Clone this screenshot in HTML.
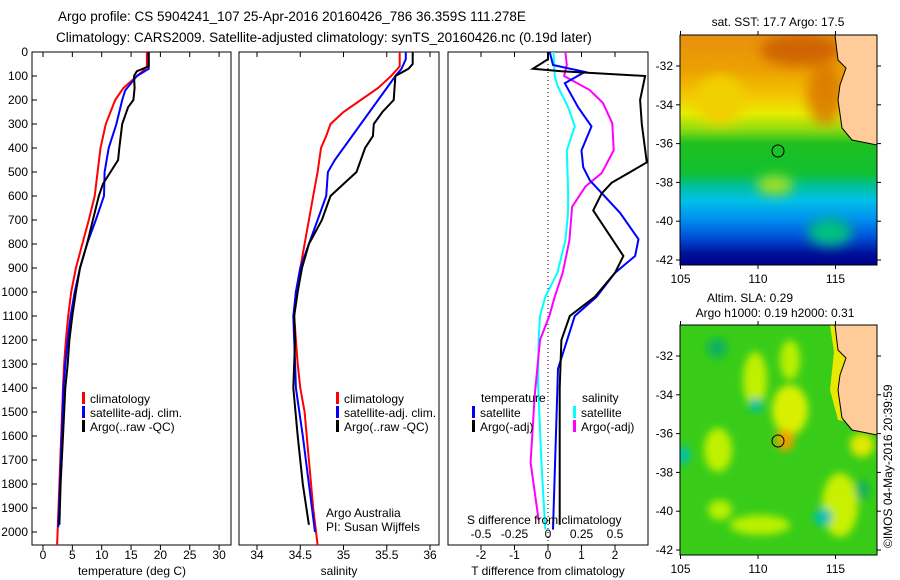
<!DOCTYPE html>
<html><head><meta charset="utf-8"><style>
body{margin:0;background:#fff}
svg{display:block;font-family:"Liberation Sans",sans-serif}
</style></head><body>
<svg id="chart" width="900" height="580" viewBox="0 0 900 580">
<text x="58" y="21" font-size="13.5">Argo profile: CS 5904241_107 25-Apr-2016 20160426_786 36.359S 111.278E</text>
<text x="56" y="42" font-size="13.5">Climatology: CARS2009. Satellite-adjusted climatology: synTS_20160426.nc (0.19d later)</text>
<g id="panels"></g>
<g id="maps">
 <defs>
  <linearGradient id="sstg" x1="0" y1="0" x2="0" y2="1">
   <stop offset="0" stop-color="#e89010"/><stop offset="0.15" stop-color="#eca000"/>
   <stop offset="0.27" stop-color="#f4c800"/><stop offset="0.34" stop-color="#e8ec00"/>
   <stop offset="0.41" stop-color="#90dc10"/><stop offset="0.47" stop-color="#20c020"/>
   <stop offset="0.6" stop-color="#10c030"/><stop offset="0.66" stop-color="#00c0a0"/>
   <stop offset="0.72" stop-color="#00c0e8"/><stop offset="0.8" stop-color="#0090f0"/>
   <stop offset="0.88" stop-color="#0050d8"/><stop offset="0.95" stop-color="#001098"/>
   <stop offset="1" stop-color="#000088"/>
  </linearGradient>
  <clipPath id="c1"><rect x="680" y="35" width="197" height="230"/></clipPath>
  <clipPath id="c2"><rect x="680" y="325" width="197" height="230"/></clipPath>
  <filter id="bl"><feGaussianBlur stdDeviation="6"/></filter>
  <filter id="bl2"><feGaussianBlur stdDeviation="4"/></filter>
 </defs>
 <g clip-path="url(#c1)">
  <rect x="680" y="35" width="197" height="230" fill="url(#sstg)"/>
  <g filter="url(#bl)">
   <ellipse cx="800" cy="50" rx="40" ry="16" fill="#c85800" opacity="0.8"/>
   <ellipse cx="825" cy="95" rx="18" ry="30" fill="#d87000" opacity="0.8"/>
   <ellipse cx="775" cy="185" rx="18" ry="10" fill="#a0e020"/>
   <ellipse cx="830" cy="232" rx="22" ry="14" fill="#00c080"/>
   <ellipse cx="720" cy="100" rx="25" ry="25" fill="#f0d000"/>
  </g>
  <polygon points="835,35 838,60 846,68 840,85 838,100 842,128 852,140 877,145 877,35" fill="#ffcc99" stroke="#000" stroke-width="1"/>
 </g>
 <rect x="680" y="35" width="197" height="230" fill="none" stroke="#000"/>
 <circle cx="778" cy="151" r="6" fill="none" stroke="#000"/>
 <g clip-path="url(#c2)">
  <rect x="680" y="325" width="197" height="230" fill="#38cc18"/>
  <g filter="url(#bl2)">
   <ellipse cx="755" cy="380" rx="12" ry="28" fill="#c0f000"/>
   <ellipse cx="790" cy="410" rx="18" ry="25" fill="#d8f000"/>
   <ellipse cx="785" cy="440" rx="9" ry="11" fill="#f0a000"/>
   <ellipse cx="718" cy="450" rx="14" ry="22" fill="#c0f000"/>
   <ellipse cx="840" cy="505" rx="18" ry="32" fill="#c8f000"/>
   <ellipse cx="862" cy="445" rx="12" ry="12" fill="#e0e800"/>
   <ellipse cx="760" cy="525" rx="30" ry="10" fill="#b8f000"/>
   <ellipse cx="720" cy="510" rx="12" ry="10" fill="#b8f000"/>
   <ellipse cx="790" cy="360" rx="10" ry="20" fill="#b8f000"/>
   <ellipse cx="756" cy="405" rx="7" ry="7" fill="#00c0a0"/>
   <ellipse cx="683" cy="455" rx="7" ry="9" fill="#00c0b0"/>
   <ellipse cx="823" cy="517" rx="9" ry="9" fill="#00c0b0"/>
   <ellipse cx="717" cy="348" rx="10" ry="10" fill="#10b060"/>
   <ellipse cx="862" cy="490" rx="7" ry="10" fill="#10b060"/>
  </g>
  <polygon points="830,325 834,352 830,390 838,420 877,427 877,325" fill="#e8e800"/>
  <polygon points="835,325 838,350 846,358 840,375 838,390 842,418 852,430 877,435 877,325" fill="#ffcc99" stroke="#000" stroke-width="1"/>
 </g>
 <rect x="680" y="325" width="197" height="230" fill="none" stroke="#000"/>
 <circle cx="778" cy="441" r="6" fill="none" stroke="#000"/>
 <text x="778" y="26" font-size="12" text-anchor="middle">sat. SST: 17.7 Argo: 17.5</text>
 <text x="750" y="302" font-size="12" text-anchor="middle">Altim. SLA: 0.29</text>
 <text x="775" y="317" font-size="12" text-anchor="middle">Argo h1000: 0.19 h2000: 0.31</text>
 <text transform="translate(892,548) rotate(-90)" font-size="12">©IMOS 04-May-2016 20:39:59</text>
 <g id="mapticks"></g>
</g>
</svg>
<script>
// depths (m) and values for each profile
const tClimD=[0,60,80,100,150,200,300,400,500,600,700,800,900,1000,1100,1200,1300,1400,1600,1800,2054];
const tClimV=[17.7,17.7,17,16,13.7,12.3,10.7,9.8,9.3,8.8,7.8,6.7,5.6,4.8,4.3,3.9,3.6,3.4,3.1,2.8,2.4];
const tSatD=[0,70,100,160,200,300,400,500,600,700,800,900,1000,1100,1200,1300,1400,1600,1800,1980];
const tSatV=[18,18,16,14,13.5,12.5,11.2,10.5,10.4,9,7.5,6.3,5.4,4.7,4.2,3.8,3.5,3.2,2.9,2.6];
const tArgoD=[0,60,70,80,100,150,200,230,300,400,450,500,550,600,700,800,900,1000,1100,1200,1300,1400,1600,1800,1970];
const tArgoV=[18,18,17,16,15.5,15.6,15.4,14.5,13.5,13,12.8,11.5,10.2,9.5,8.5,7.5,6.3,5.6,5.0,4.5,4.2,3.8,3.4,3.0,2.8];
const sClimD=[0,60,100,150,200,250,300,350,400,500,600,700,800,900,1000,1100,1200,1300,1400,1500,1700,1900,2054];
const sClimV=[35.65,35.65,35.55,35.4,35.2,35.0,34.85,34.8,34.74,34.7,34.65,34.6,34.55,34.5,34.45,34.43,34.45,34.47,34.5,34.55,34.6,34.65,34.7];
const sSatD=[0,30,70,100,150,200,300,400,450,500,600,700,800,900,1000,1100,1200,1300,1400,1600,1800,2000];
const sSatV=[35.72,35.72,35.67,35.6,35.5,35.4,35.2,35.0,34.9,34.82,34.8,34.7,34.6,34.5,34.45,34.42,34.43,34.44,34.45,34.53,34.6,34.67];
const sArgoD=[0,50,70,100,200,250,300,350,400,500,550,600,700,800,900,1000,1100,1200,1400,1600,1800,1970];
const sArgoV=[35.8,35.8,35.75,35.6,35.58,35.45,35.35,35.34,35.25,35.15,35.0,34.85,34.75,34.6,34.52,34.47,34.43,34.44,34.42,34.47,34.53,34.6];
const dTArgoD=[0,30,70,80,100,200,300,460,545,590,660,850,920,1020,1100,1200,1400,1700,1970];
const dTArgoV=[0,0,-0.45,0.4,2.9,2.75,2.8,2.95,1.9,1.6,1.35,2.25,2.0,1.4,0.65,0.4,0.35,0.35,0.35];
const dTSatD=[0,54,83,130,230,310,410,480,535,670,780,850,920,1020,1100,1320,1990];
const dTSatV=[0.05,0.15,1.1,0.5,0.9,1.3,1.0,1.05,1.25,2.15,2.7,2.6,2.0,1.45,0.8,0.3,0.15];
const dSArgoD=[0,54,100,158,212,297,410,505,560,645,785,920,1020,1100,1200,1437,1710,1950];
const dSArgoV=[0.13,0.14,0.12,0.31,0.41,0.48,0.49,0.4,0.28,0.18,0.16,0.11,0.05,0.01,-0.06,-0.1,-0.13,-0.07];
const dSSatD=[0,100,140,230,310,410,575,670,785,920,1020,1100,1200,1375,1700,1990];
const dSSatV=[0.04,0.05,0.07,0.15,0.2,0.14,0.15,0.15,0.13,0.07,-0.02,-0.06,-0.07,-0.075,-0.05,-0.02];
const depthTicks=[0,100,200,300,400,500,600,700,800,900,1000,1100,1200,1300,1400,1500,1600,1700,1800,1900,2000];
const tTicks=[0,5,10,15,20,25,30];
const sTicks=[34,34.5,35,35.5,36];
const sTickLabels=["34","34.5","35","35.5","36"];
const dTTicks=[-2,-1,0,1,2];
const dSTicks=[-0.5,-0.25,0,0.25,0.5];
const dSTickLabels=["-0.5","-0.25","0","0.25","0.5"];
const lonTicks=[105,110,115];
const latTicks=[-32,-34,-36,-38,-40,-42];

const NS='http://www.w3.org/2000/svg';
const root=document.getElementById('panels');
function mk(tag,attrs,parent,txt){const e=document.createElementNS(NS,tag);for(const k in attrs)e.setAttribute(k,attrs[k]);if(txt!==undefined)e.textContent=txt;(parent||root).appendChild(e);return e;}
const yD=d=>52+d*0.24;
const xT=v=>43+v*5.87;
const xS=v=>257+(v-34)*86.5;
const xDT=v=>548+v*33.5;
const xDS=v=>548+v*134;
function line(D,V,fx,col,w,name){
  const p=mk('polyline',{points:D.map((d,i)=>fx(V[i]).toFixed(1)+','+yD(d).toFixed(1)).join(' '),fill:'none',stroke:col,'stroke-width':w});
  
  
}
const panels=[[32,231],[239,439],[448,648]];
panels.forEach((p,i)=>{
  const r=mk('rect',{x:p[0],y:52,width:p[1]-p[0],height:493,fill:'none',stroke:'#000'});
  
  
});
depthTicks.forEach(d=>{
  mk('line',{x1:32,x2:37,y1:yD(d),y2:yD(d),stroke:'#000'});
  const t=mk('text',{x:28,y:yD(d)+4,'font-size':12,'text-anchor':'end'},root,d);
  
  
});
function xticks(ticks,labels,fx,ly){
  ticks.forEach((v,i)=>{
    mk('line',{x1:fx(v),x2:fx(v),y1:52,y2:57,stroke:'#000'});
    mk('line',{x1:fx(v),x2:fx(v),y1:545,y2:550,stroke:'#000'});
    const t=mk('text',{x:fx(v),y:ly,'font-size':12,'text-anchor':'middle'},root,labels[i]);
    
    
  });
}
xticks(tTicks,tTicks,xT,559);
xticks(sTicks,sTickLabels,xS,559);
xticks(dTTicks,dTTicks,xDT,559);
dSTicks.forEach((v,i)=>{
  const t=mk('text',{x:xDS(v),y:538,'font-size':12,'text-anchor':'middle'},root,dSTickLabels[i]);
  
  
});
mk('line',{x1:548,x2:548,y1:52,y2:545,stroke:'#000','stroke-dasharray':'1,3'});
line(tClimD,tClimV,xT,'#ff0000',2,'temp-climatology-line');
line(tSatD,tSatV,xT,'#0000ff',2,'temp-satellite-line');
line(tArgoD,tArgoV,xT,'#000',2,'temp-argo-line');
line(sClimD,sClimV,xS,'#ff0000',2,'sal-climatology-line');
line(sSatD,sSatV,xS,'#0000ff',2,'sal-satellite-line');
line(sArgoD,sArgoV,xS,'#000',2,'sal-argo-line');
line(dSSatD,dSSatV,xDS,'#00ffff',2,'sdiff-satellite-line');
line(dSArgoD,dSArgoV,xDS,'#ff00ff',2,'sdiff-argo-line');
line(dTSatD,dTSatV,xDT,'#0000ff',2,'tdiff-satellite-line');
line(dTArgoD,dTArgoV,xDT,'#000',2,'tdiff-argo-line');
function leg(x,y,col,label){
  mk('rect',{x:x,y:y-6,width:3,height:12,fill:col});
  const t=mk('text',{x:x+8,y:y+5,'font-size':12},root,label);
  
  
}
[[82,'#f00','climatology'],[82,'#00f','satellite-adj. clim.'],[82,'#000','Argo(..raw -QC)']].forEach((e,i)=>leg(e[0],398+i*14,e[1],e[2]));
[[336,'#f00','climatology'],[336,'#00f','satellite-adj. clim.'],[336,'#000','Argo(..raw -QC)']].forEach((e,i)=>leg(e[0],398+i*14,e[1],e[2]));
leg(472,412,'#00f','satellite');leg(472,426,'#000','Argo(-adj)');
leg(573,412,'#0ff','satellite');leg(573,426,'#f0f','Argo(-adj)');
[[481,402,'temperature'],[582,402,'salinity'],[326,517,'Argo Australia'],[326,531,'PI: Susan Wijffels'],[467,524,'S difference from climatology']].forEach(a=>{
  const t=mk('text',{x:a[0],y:a[1],'font-size':12},root,a[2]);
  
  
});
[[132,'temperature (deg C)'],[339,'salinity'],[548,'T difference from climatology']].forEach(a=>{
  const t=mk('text',{x:a[0],y:575,'font-size':12,'text-anchor':'middle'},root,a[1]);
  
  
});
// maps ticks
const mt=document.getElementById('mapticks');
const xLon=v=>680.5+(v-105)*15.5;
[[35,265],[325,555]].forEach(([top,bot])=>{
  lonTicks.forEach(v=>{
    mk('line',{x1:xLon(v),x2:xLon(v),y1:bot,y2:bot+4,stroke:'#000'},mt);
    mk('line',{x1:xLon(v),x2:xLon(v),y1:top,y2:top-4,stroke:'#000'},mt);
    const t=mk('text',{x:xLon(v),y:bot+18,'font-size':12,'text-anchor':'middle'},mt,v);
    
    
  });
  latTicks.forEach(v=>{
    const y=top+31+(-32-v)*19.4;
    mk('line',{x1:676,x2:680,y1:y,y2:y,stroke:'#000'},mt);
    mk('line',{x1:877,x2:881,y1:y,y2:y,stroke:'#000'},mt);
    const t=mk('text',{x:673,y:y+4,'font-size':12,'text-anchor':'end'},mt,v);
    
    
  });
});
</script>
</body></html>
